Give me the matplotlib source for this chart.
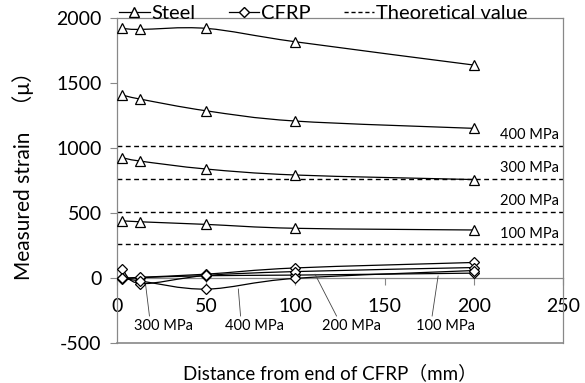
import numpy as np
import matplotlib
matplotlib.use("Agg")
import matplotlib.pyplot as plt
from matplotlib.path import Path
from matplotlib.patches import PathPatch
from matplotlib.lines import Line2D

# ---- data ----
distance = [3, 13, 50, 100, 200]
stress_levels = ["100 MPa", "200 MPa", "300 MPa", "400 MPa"]
steel_100 = [443, 435, 415, 385, 372]
steel_200 = [928, 902, 841, 795, 760]
steel_300 = [1410, 1379, 1289, 1210, 1154]
steel_400 = [1923, 1915, 1923, 1820, 1641]
cfrp_100 = [-5, 5, 20, 25, 40]
cfrp_200 = [0, 8, 32, 80, 122]
cfrp_300 = [75, -40, 22, 52, 83]
cfrp_400 = [0, -20, -83, 0, 60]
theoretical = [264, 512, 765, 1020]
x_ticks = [0, 50, 100, 150, 200, 250]
y_ticks = [-500, 0, 500, 1000, 1500, 2000]

FONT = ["Lato", "Noto Sans CJK JP", "DejaVu Sans"]
plt.rcParams["font.family"] = FONT

fig = plt.figure(figsize=(5.85, 3.83), dpi=100)
ax = fig.add_axes([0.2, 0.1036, 0.7624, 0.8484])
ax.set_xlim(0, 250)
ax.set_ylim(-500, 2000)


def smooth_path(xs, ys):
    """Excel-like smoothed line (Catmull-Rom via cubic Bezier)."""
    pts = np.column_stack([xs, ys]).astype(float)
    n = len(pts)
    verts = [pts[0]]
    codes = [Path.MOVETO]
    for i in range(n - 1):
        p0 = pts[i - 1] if i > 0 else pts[i]
        p1 = pts[i]
        p2 = pts[i + 1]
        p3 = pts[i + 2] if i + 2 < n else pts[i + 1]
        c1 = p1 + (p2 - p0) / 6.0
        c2 = p2 - (p3 - p1) / 6.0
        verts += [c1, c2, p2]
        codes += [Path.CURVE4] * 3
    return Path(verts, codes)


def draw_series(ys, marker):
    ax.add_patch(PathPatch(smooth_path(distance, ys), fill=False,
                           edgecolor="black", lw=0.9, zorder=3))
    ax.plot(distance, ys, ls="none", marker=marker,
            ms=6.5 if marker == "^" else 5.3,
            mfc="white", mec="black", mew=0.9, zorder=4)


for s in [steel_100, steel_200, steel_300, steel_400]:
    draw_series(s, "^")
for s in [cfrp_100, cfrp_200, cfrp_300, cfrp_400]:
    draw_series(s, "D")

for val, lab in zip(theoretical, stress_levels):
    ax.axhline(val, color="black", lw=1.0, ls=(0, (3.5, 2.5)), zorder=2)
    ax.annotate(lab, xy=(248, val), xytext=(0, 2.5), textcoords="offset points",
                ha="right", va="bottom", fontsize=10.5, family=FONT)

# CFRP labels with leader lines
cfrp_labels = [
    ("300 MPa", (16, -45), (26, -366)),
    ("400 MPa", (68, -81), (77, -366)),
    ("200 MPa", (111, 32), (131.5, -366)),
    ("100 MPa", (180, 19), (184, -366)),
]
for lab, xy, xyt in cfrp_labels:
    ax.annotate(lab, xy=xy, xytext=xyt, ha="center", va="center", fontsize=10.5,
                family=FONT,
                arrowprops=dict(arrowstyle="-", color="#444444", lw=0.6,
                                relpos=(0.27, 1.0), shrinkA=0, shrinkB=0))

# spines / axes
for side in ["left", "right", "top"]:
    ax.spines[side].set_color("#888888")
    ax.spines[side].set_linewidth(0.9)
ax.spines["bottom"].set_position(("data", 0))
ax.spines["bottom"].set_color("#888888")
ax.spines["bottom"].set_linewidth(0.9)
# frame bottom edge
ax.axhline(-500, color="#888888", lw=1.2, zorder=1, clip_on=False)

ax.set_xticks(x_ticks)
ax.set_yticks(y_ticks)
ax.tick_params(axis="x", direction="out", length=5, color="#888888",
               labelsize=14, pad=9)
ax.tick_params(axis="y", direction="out", length=5, color="#888888",
               labelsize=14, pad=6)
ax.set_xticklabels([str(v) for v in x_ticks])
ax.set_yticklabels([str(v) for v in y_ticks])

ax.set_xlabel("Distance from end of CFRP（mm）", fontsize=13.5, labelpad=0, family=FONT)
ax.xaxis.set_label_coords(0.478, -0.065)
ax.set_ylabel("Measured strain   （μ）", fontsize=15, family=FONT)
ax.yaxis.set_label_coords(-0.185, 0.53)

handles = [
    Line2D([], [], color="black", lw=0.9, marker="^", ms=6.5, mfc="white", mec="black"),
    Line2D([], [], color="black", lw=0.9, marker="D", ms=5.3, mfc="white", mec="black"),
    Line2D([], [], color="black", lw=1.0, ls=(0, (3, 2))),
]
leg = fig.legend(handles, ["Steel", "CFRP", "Theoretical value"], loc="center",
                 bbox_to_anchor=(0.553, 0.964), ncol=3, frameon=False,
                 fontsize=14.5, handlelength=1.5, handletextpad=0.1,
                 columnspacing=1.65, borderaxespad=0)

fig.savefig("out.png", dpi=100)
